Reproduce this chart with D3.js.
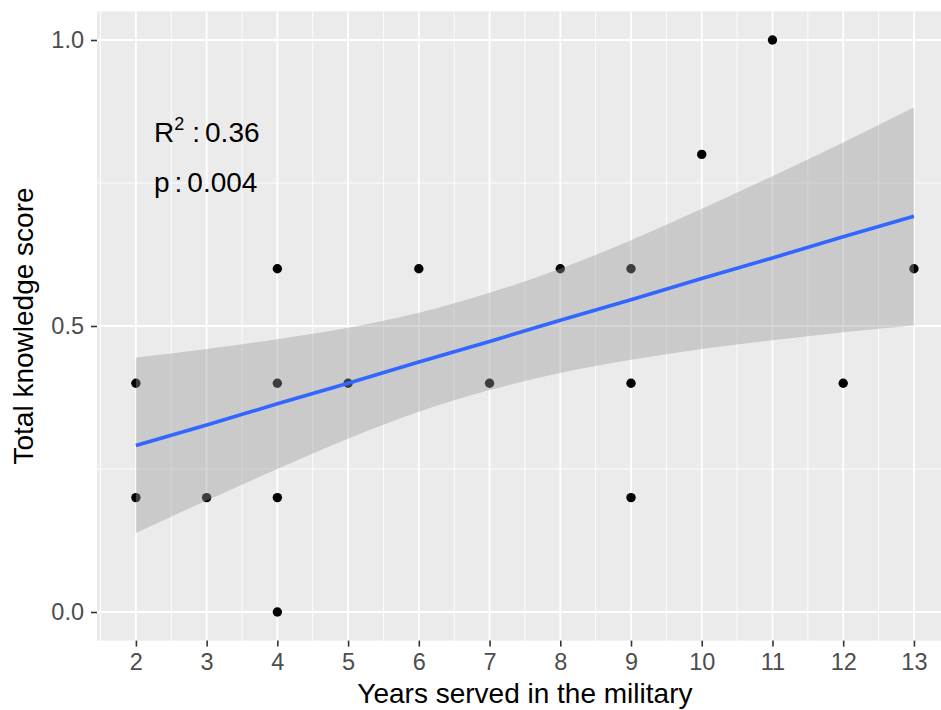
<!DOCTYPE html>
<html>
<head>
<meta charset="utf-8">
<script src="https://cdnjs.cloudflare.com/ajax/libs/d3/7.8.5/d3.min.js"></script>
<style>
  html, body { margin: 0; padding: 0; background: #fff; }
  svg { display: block; font-family: "Liberation Sans", Arial, sans-serif; }
</style>
</head>
<body>
<div id="chart"></div>
<script>
// observed points (years served, total knowledge score)
const years  = [2, 2, 3, 4, 4, 4, 4, 5, 6, 7, 8, 9, 9, 9, 10, 11, 12, 13];
const scores = [0.4, 0.2, 0.2, 0.6, 0.4, 0.2, 0.0, 0.4, 0.6, 0.4, 0.6, 0.6, 0.4, 0.2, 0.8, 1.0, 0.4, 0.6];

// linear fit and 95% band
const fitX      = [2, 3, 4, 5, 6, 7, 8, 9, 10, 11, 12, 13];
const fitY      = [0.291, 0.327, 0.364, 0.400, 0.437, 0.473, 0.510, 0.546, 0.583, 0.619, 0.656, 0.692];
const bandUpper = [0.445, 0.460, 0.477, 0.497, 0.523, 0.558, 0.600, 0.650, 0.705, 0.762, 0.821, 0.882];
const bandLower = [0.138, 0.195, 0.250, 0.303, 0.350, 0.388, 0.418, 0.441, 0.460, 0.475, 0.489, 0.501];

const xTicks = [2, 3, 4, 5, 6, 7, 8, 9, 10, 11, 12, 13];
const yTicks = [0.0, 0.5, 1.0];
const yTickLabels = ['0.0', '0.5', '1.0'];

const W = 941, H = 710;
const panel = { left: 97, top: 11.4, bottom: 640.6 };

const x = d3.scaleLinear().domain([1.45, 13.55]).range([panel.left, panel.left + 12.1 * 70.73]);
const y = d3.scaleLinear().domain([-0.05, 1.05]).range([panel.bottom, panel.top]);

const svg = d3.select('#chart').append('svg')
  .attr('width', W)
  .attr('height', H);

// panel background
svg.append('rect')
  .attr('x', panel.left)
  .attr('y', panel.top)
  .attr('width', W - panel.left)
  .attr('height', panel.bottom - panel.top)
  .attr('fill', '#EBEBEB');

const grid = svg.append('g');

// minor grid
const xMinor = d3.range(1.5, 14, 1);
const yMinor = [0.25, 0.75];
grid.selectAll('.xminor').data(xMinor).enter().append('line')
  .attr('x1', d => x(d)).attr('x2', d => x(d))
  .attr('y1', panel.top).attr('y2', panel.bottom)
  .attr('stroke', '#fff').attr('stroke-width', 0.9);
grid.selectAll('.yminor').data(yMinor).enter().append('line')
  .attr('x1', panel.left).attr('x2', W)
  .attr('y1', d => y(d)).attr('y2', d => y(d))
  .attr('stroke', '#fff').attr('stroke-width', 0.9);

// major grid
grid.selectAll('.xmajor').data(xTicks).enter().append('line')
  .attr('x1', d => x(d)).attr('x2', d => x(d))
  .attr('y1', panel.top).attr('y2', panel.bottom)
  .attr('stroke', '#fff').attr('stroke-width', 1.8);
grid.selectAll('.ymajor').data(yTicks).enter().append('line')
  .attr('x1', panel.left).attr('x2', W)
  .attr('y1', d => y(d)).attr('y2', d => y(d))
  .attr('stroke', '#fff').attr('stroke-width', 1.8);

// points (drawn under the band, like ggplot)
svg.append('g').selectAll('circle')
  .data(years.map((v, i) => [v, scores[i]]))
  .enter().append('circle')
  .attr('cx', d => x(d[0]))
  .attr('cy', d => y(d[1]))
  .attr('r', 4.7)
  .attr('fill', '#000');

// confidence band
const area = d3.area()
  .curve(d3.curveMonotoneX)
  .x(d => x(d.x))
  .y0(d => y(d.lo))
  .y1(d => y(d.hi));
svg.append('path')
  .datum(fitX.map((v, i) => ({ x: v, lo: bandLower[i], hi: bandUpper[i] })))
  .attr('d', area)
  .attr('fill', '#999999')
  .attr('fill-opacity', 0.4);

// fitted line
const line = d3.line().x(d => x(d[0])).y(d => y(d[1]));
svg.append('path')
  .datum(fitX.map((v, i) => [v, fitY[i]]))
  .attr('d', line)
  .attr('fill', 'none')
  .attr('stroke', '#3366FF')
  .attr('stroke-width', 3.6);

// axes
const xAxis = svg.append('g')
  .attr('transform', `translate(0,${panel.bottom})`)
  .call(d3.axisBottom(x).tickValues(xTicks).tickSize(6).tickPadding(7).tickFormat(d3.format('d')));
xAxis.select('.domain').remove();
xAxis.selectAll('line').attr('stroke', '#333').attr('stroke-width', 1.6);
xAxis.selectAll('text').attr('fill', '#4D4D4D').attr('font-size', 23.5);

const yAxis = svg.append('g')
  .attr('transform', `translate(${panel.left},0)`)
  .call(d3.axisLeft(y).tickValues(yTicks).tickSize(6).tickPadding(7).tickFormat((d, i) => yTickLabels[i]));
yAxis.select('.domain').remove();
yAxis.selectAll('line').attr('stroke', '#333').attr('stroke-width', 1.6);
yAxis.selectAll('text').attr('fill', '#4D4D4D').attr('font-size', 23.5);

// axis titles
svg.append('text')
  .attr('x', x(7.5))
  .attr('y', 703)
  .attr('text-anchor', 'middle')
  .attr('font-size', 28)
  .attr('fill', '#000')
  .text('Years served in the military');

svg.append('text')
  .attr('transform', `translate(33,${(panel.top + panel.bottom) / 2}) rotate(-90)`)
  .attr('text-anchor', 'middle')
  .attr('font-size', 28)
  .attr('fill', '#000')
  .text('Total knowledge score');

// annotations (plotmath-style tight colon spacing)
const r2 = svg.append('text')
  .attr('x', 154)
  .attr('y', 142)
  .attr('font-size', 28)
  .attr('fill', '#000');
r2.append('tspan').text('R');
r2.append('tspan').attr('dy', -12).attr('font-size', 18).text('2');
r2.append('tspan').attr('dy', 12).attr('dx', 8).text(':');
r2.append('tspan').attr('dx', 5).text('0.36');

const pv = svg.append('text')
  .attr('x', 154)
  .attr('y', 192)
  .attr('font-size', 28)
  .attr('fill', '#000');
pv.append('tspan').text('p');
pv.append('tspan').attr('dx', 5).text(':');
pv.append('tspan').attr('dx', 5).text('0.004');
</script>
</body>
</html>
